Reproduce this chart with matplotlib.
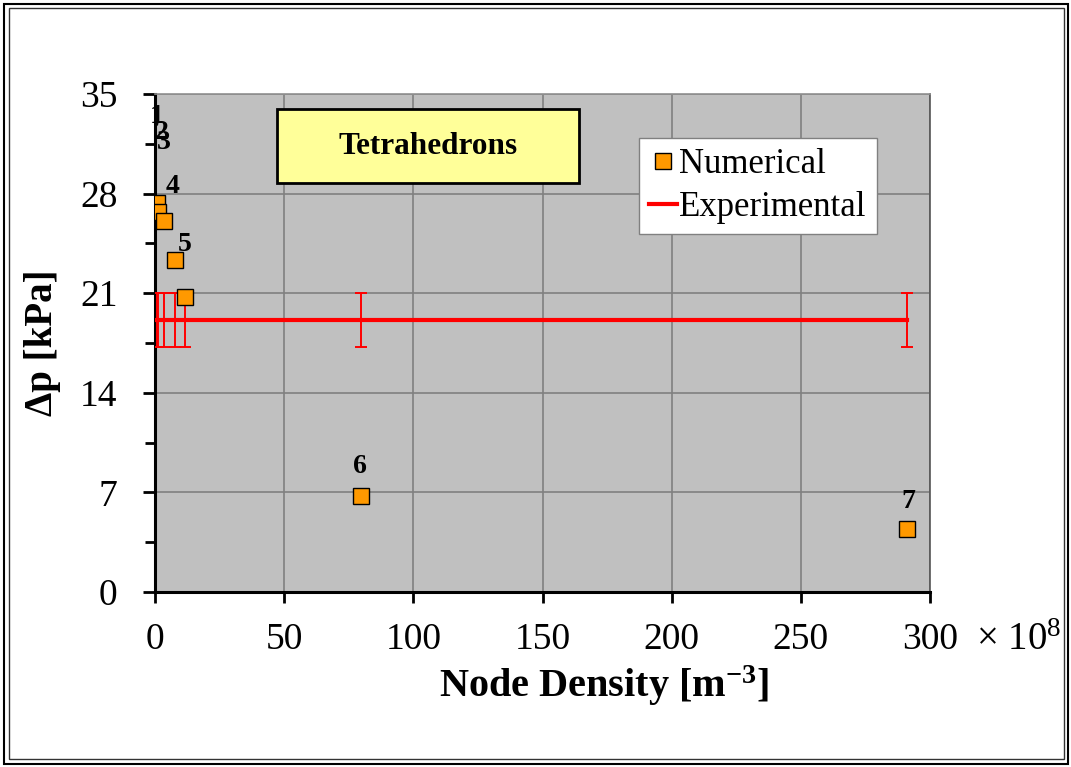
import matplotlib
matplotlib.use("Agg")
import matplotlib.pyplot as plt
from matplotlib.patches import Rectangle
from matplotlib.ticker import MultipleLocator

plt.rcParams['font.family'] = ['Liberation Serif', 'DejaVu Serif']
plt.rcParams['mathtext.fontset'] = 'custom'
plt.rcParams['mathtext.rm'] = 'Liberation Serif'
plt.rcParams['mathtext.it'] = 'Liberation Serif:italic'
plt.rcParams['mathtext.bf'] = 'Liberation Serif:bold'

# ---- data (node density in 1e8 m^-3, pressure drop in kPa) ----
node_density = [0.66, 1.29, 3.37, 7.62, 11.6, 79.9, 291.1]
dp_numerical = [27.35, 26.73, 26.08, 23.33, 20.75, 6.75, 4.43]
point_labels = ['1', '2', '3', '4', '5', '6', '7']
dp_experimental = 19.12
dp_exp_error = 1.9
x_ticks = [0, 50, 100, 150, 200, 250, 300]
y_ticks = [0, 7, 14, 21, 28, 35]

# label offsets in pixels (style only)
label_offsets = [(0, 86), (3, 79), (0, 78), (-2, 74), (0, 52), (-1, 29), (1, 27)]

W, H = 1071, 767
fig = plt.figure(figsize=(W / 100, H / 100), dpi=100)
fig.patch.set_facecolor('white')

ax = fig.add_axes([155 / W, 1 - 592 / H, 775 / W, 498 / H])
ax.set_facecolor('#C0C0C0')
ax.set_xlim(0, 300)
ax.set_ylim(0, 35)

ax.set_xticks(x_ticks)
ax.set_yticks(y_ticks)
ax.yaxis.set_minor_locator(MultipleLocator(3.5))
ax.grid(True, which='major', color='#808080', linewidth=1.2)
ax.set_axisbelow(True)

for s in ['left', 'bottom']:
    ax.spines[s].set_color('black')
    ax.spines[s].set_linewidth(2.2)
ax.spines['right'].set_color('#555555')
ax.spines['right'].set_linewidth(1.2)
ax.spines['top'].set_color('#909090')
ax.spines['top'].set_linewidth(1.2)

ax.tick_params(axis='y', which='major', direction='out', length=9, width=2,
               labelsize=27, pad=18)
ax.tick_params(axis='y', which='minor', direction='out', length=7, width=2)
ax.tick_params(axis='x', which='major', direction='out', length=8, width=2,
               labelsize=27, pad=14)

# experimental line with error bars
n = len(node_density)
ax.plot([node_density[0], node_density[-1]], [dp_experimental] * 2,
        color='#FF0000', linewidth=3, zorder=3, label='Experimental')
ax.errorbar(node_density, [dp_experimental] * n, yerr=[dp_exp_error] * n,
            fmt='none', ecolor='#FF0000', elinewidth=1.4, capsize=4.5,
            capthick=1.4, zorder=3)

# numerical points
ax.plot(node_density, dp_numerical, linestyle='none', marker='s',
        markersize=11, markerfacecolor='#FF9900', markeredgecolor='black',
        markeredgewidth=1.0, zorder=4, label='Numerical')

for xv, yv, lab, off in zip(node_density, dp_numerical, point_labels, label_offsets):
    ax.annotate(lab, (xv, yv), xytext=off, textcoords='offset pixels',
                ha='center', va='center', fontsize=20, fontweight='bold',
                zorder=5)

ax.set_xlabel('Node Density [m$^{\\mathbf{-3}}$]', fontsize=29,
              fontweight='bold')
ax.xaxis.set_label_coords((604 - 155) / 775, (592 - 686) / 498)
ax.xaxis.label.set_va('center')
ax.set_ylabel('Δp [kPa]', fontsize=28, fontweight='bold', labelpad=14)

# multiplier
fig.text(1061 / W, 1 - 641 / H, '× 10$^{8}$', fontsize=28, ha='right',
         va='center')

# title box
fig.patches.append(Rectangle((277 / W, 1 - 183 / H), 302 / W, 74 / H,
                             transform=fig.transFigure, facecolor='#FFFF99',
                             edgecolor='black', linewidth=2, zorder=5))
fig.text(428 / W, 1 - 147 / H, 'Tetrahedrons', fontsize=22.5,
         fontweight='bold', ha='center', va='center', zorder=7)

# legend
handles, labels = ax.get_legend_handles_labels()
order = [1, 0]
leg = ax.legend([handles[i] for i in order], [labels[i] for i in order],
                loc='upper left', bbox_to_anchor=(639 / W, 1 - 138 / H),
                bbox_transform=fig.transFigure, fontsize=25, frameon=True,
                fancybox=False, edgecolor='#808080', facecolor='white',
                framealpha=1, handlelength=0.8, handletextpad=0.08,
                borderpad=0.28, labelspacing=0.3, borderaxespad=0)
leg.get_frame().set_linewidth(1.0)
leg.set_zorder(6)

# outer double border
fig.patches.append(Rectangle((3.5 / W, 3.5 / H), (W - 7) / W, (H - 7) / H,
                             transform=fig.transFigure, fill=False,
                             edgecolor='black', linewidth=1.5))
fig.patches.append(Rectangle((8.5 / W, 8.5 / H), (W - 16) / W, (H - 16) / H,
                             transform=fig.transFigure, fill=False,
                             edgecolor='#333333', linewidth=1.0))

fig.savefig('out.png', dpi=100, facecolor='white')
